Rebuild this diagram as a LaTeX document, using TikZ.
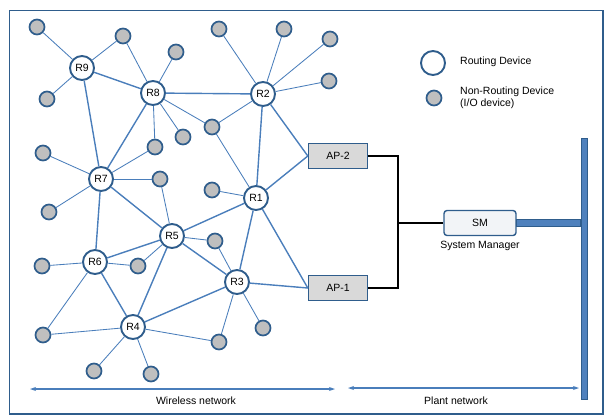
\documentclass[tikz,border=0pt]{standalone}
\usepackage{fontspec}
\setmainfont{Liberation Sans}
\usetikzlibrary{arrows.meta}
\definecolor{edgeblue}{HTML}{4A7EBB}
\definecolor{nodeblue}{HTML}{2F5D8C}
\definecolor{devgrey}{HTML}{BFBFBF}
\definecolor{apgrey}{HTML}{D9D9D9}
\definecolor{smfill}{HTML}{F2F4F7}
\definecolor{barblue}{HTML}{4F81BD}
\tikzset{
  router/.style={circle, draw=nodeblue, line width=1.9pt, fill=white, minimum size=24pt, inner sep=0pt, font=\fontsize{10.5}{12}\selectfont},
  dev/.style={circle, draw=nodeblue, line width=1.7pt, fill=devgrey, minimum size=15pt, inner sep=0pt},
  link/.style={draw=edgeblue, line width=1.4pt},
  thinlink/.style={draw=edgeblue, line width=0.85pt},
  apbox/.style={rectangle, draw=nodeblue, line width=1.4pt, fill=apgrey, minimum width=59pt, minimum height=25pt, inner sep=0pt, font=\fontsize{10.5}{12}\selectfont},
  smbox/.style={rectangle, rounded corners=3pt, draw=nodeblue, line width=1.4pt, fill=smfill, minimum width=72pt, minimum height=25pt, inner sep=0pt, font=\fontsize{10.5}{12}\selectfont},
  lbl/.style={font=\fontsize{10.5}{12.5}\selectfont, inner sep=0pt},
  wire/.style={draw=black, line width=2.6pt},
  span/.style={draw=edgeblue, line width=1.2pt, {Stealth[length=6pt,width=4pt]}-{Stealth[length=6pt,width=4pt]}}
}
\begin{document}
\begin{tikzpicture}[x=1pt,y=-1pt]
\useasboundingbox (0,0) rectangle (604,416);
\draw[nodeblue, line width=1.5pt] (9.5,10.5) rectangle (603,414);

% routers
\node[router] (R9) at (82,68) {R9};
\node[router] (R8) at (153,93) {R8};
\node[router] (R2) at (263,94) {R2};
\node[router] (R7) at (101,179) {R7};
\node[router] (R1) at (256,198) {R1};
\node[router] (R5) at (172,236) {R5};
\node[router] (R6) at (95,262) {R6};
\node[router] (R3) at (237,282) {R3};
\node[router] (R4) at (133,327) {R4};

% devices
\node[dev] (d1) at (37,27) {};
\node[dev] (d2) at (123,36) {};
\node[dev] (d3) at (176,52) {};
\node[dev] (d4) at (47,99) {};
\node[dev] (d5) at (219,29) {};
\node[dev] (d6) at (284,29) {};
\node[dev] (d7) at (212,127) {};
\node[dev] (d8) at (183,137) {};
\node[dev] (d9) at (155,147) {};
\node[dev] (d10) at (43,153) {};
\node[dev] (d11) at (160,179) {};
\node[dev] (d12) at (212,190) {};
\node[dev] (d13) at (49,212) {};
\node[dev] (d14) at (330,39) {};
\node[dev] (d15) at (329,81) {};
\node[dev] (d16) at (215,241) {};
\node[dev] (d17) at (138,266) {};
\node[dev] (d18) at (42,266) {};
\node[dev] (d19) at (43,335) {};
\node[dev] (d20) at (94,371) {};
\node[dev] (d21) at (151,374) {};
\node[dev] (d22) at (219,342) {};
\node[dev] (d23) at (263,328) {};

% access points, manager, bar
\node[apbox] (AP2) at (338,156) {AP-2};
\node[apbox] (AP1) at (338,288) {AP-1};
\node[smbox] (SM) at (480,223) {SM};
\node[lbl, below=5pt] (SMl) at (SM.south) {System Manager};
\node[rectangle, draw=nodeblue, line width=0.8pt, fill=barblue, minimum width=6.5pt, minimum height=261pt, inner sep=0pt] (bar) at (584.5,268.5) {};

% router links
\draw[link] (R9) -- (R8);
\draw[link] (R9) -- (R7);
\draw[link] (R8) -- (R2);
\draw[link] (R8) -- (R7);
\draw[link] (R2) -- (R1);
\draw[link] (R2) -- (AP2.west);
\draw[link] (R1) -- (AP2.west);
\draw[link] (R1) -- (R5);
\draw[link] (R1) -- (R3);
\draw[link] (R1) -- (AP1.west);
\draw[link] (R7) -- (R6);
\draw[link] (R7) -- (R5);
\draw[link] (R5) -- (R6);
\draw[link] (R5) -- (R3);
\draw[link] (R5) -- (R4);
\draw[link] (R6) -- (R4);
\draw[link] (R4) -- (R3);
\draw[link] (R3) -- (AP1.west);

% device links
\draw[thinlink] (R9) -- (d1);
\draw[thinlink] (R9) -- (d2);
\draw[thinlink] (R8) -- (d2);
\draw[thinlink] (R8) -- (d3);
\draw[thinlink] (R9) -- (d4);
\draw[thinlink] (R2) -- (d5);
\draw[thinlink] (R2) -- (d6);
\draw[thinlink] (R2) -- (d14);
\draw[thinlink] (R2) -- (d15);
\draw[thinlink] (R2) -- (d7);
\draw[thinlink] (R8) -- (d7);
\draw[thinlink] (R1) -- (d7);
\draw[thinlink] (R8) -- (d8);
\draw[thinlink] (R8) -- (d9);
\draw[thinlink] (R7) -- (d9);
\draw[thinlink] (R7) -- (d10);
\draw[thinlink] (R7) -- (d11);
\draw[thinlink] (R5) -- (d11);
\draw[thinlink] (R1) -- (d12);
\draw[thinlink] (R7) -- (d13);
\draw[thinlink] (R5) -- (d16);
\draw[thinlink] (R3) -- (d16);
\draw[thinlink] (R5) -- (d17);
\draw[thinlink] (R6) -- (d17);
\draw[thinlink] (R6) -- (d18);
\draw[thinlink] (R6) -- (d19);
\draw[thinlink] (R4) -- (d19);
\draw[thinlink] (R4) -- (d20);
\draw[thinlink] (R4) -- (d21);
\draw[thinlink] (R4) -- (d22);
\draw[thinlink] (R3) -- (d22);
\draw[thinlink] (R3) -- (d23);

% wired plant side
\coordinate (J) at (398,223);
\draw[wire] (AP2.east) -| (J) |- (AP1.east);
\draw[wire] (J) -- (SM.west);
\draw[draw=nodeblue, line width=0.8pt, fill=barblue] ([yshift=-3.5pt]SM.east) rectangle ([yshift=3.5pt]bar.west |- SM.east);

% legend
\node[router] (legR) at (433,63) {};
\node[lbl, anchor=west] (legRl) at (460,62) {Routing Device};
\node[dev] (legD) at (434,98) {};
\node[lbl, anchor=west, align=left] (legDl) at (460,98) {Non-Routing Device\\(I/O device)};

% spans
\coordinate (wl) at (30,389);
\coordinate (wr) at (335,389);
\coordinate (pl) at (348,388);
\coordinate (pr) at (579,388);
\draw[span] (wl) -- (wr);
\draw[span] (pl) -- (pr);
\node[lbl] (wlab) at (196,401) {Wireless network};
\node[lbl] (plab) at (456,401) {Plant network};
\end{tikzpicture}
\end{document}
